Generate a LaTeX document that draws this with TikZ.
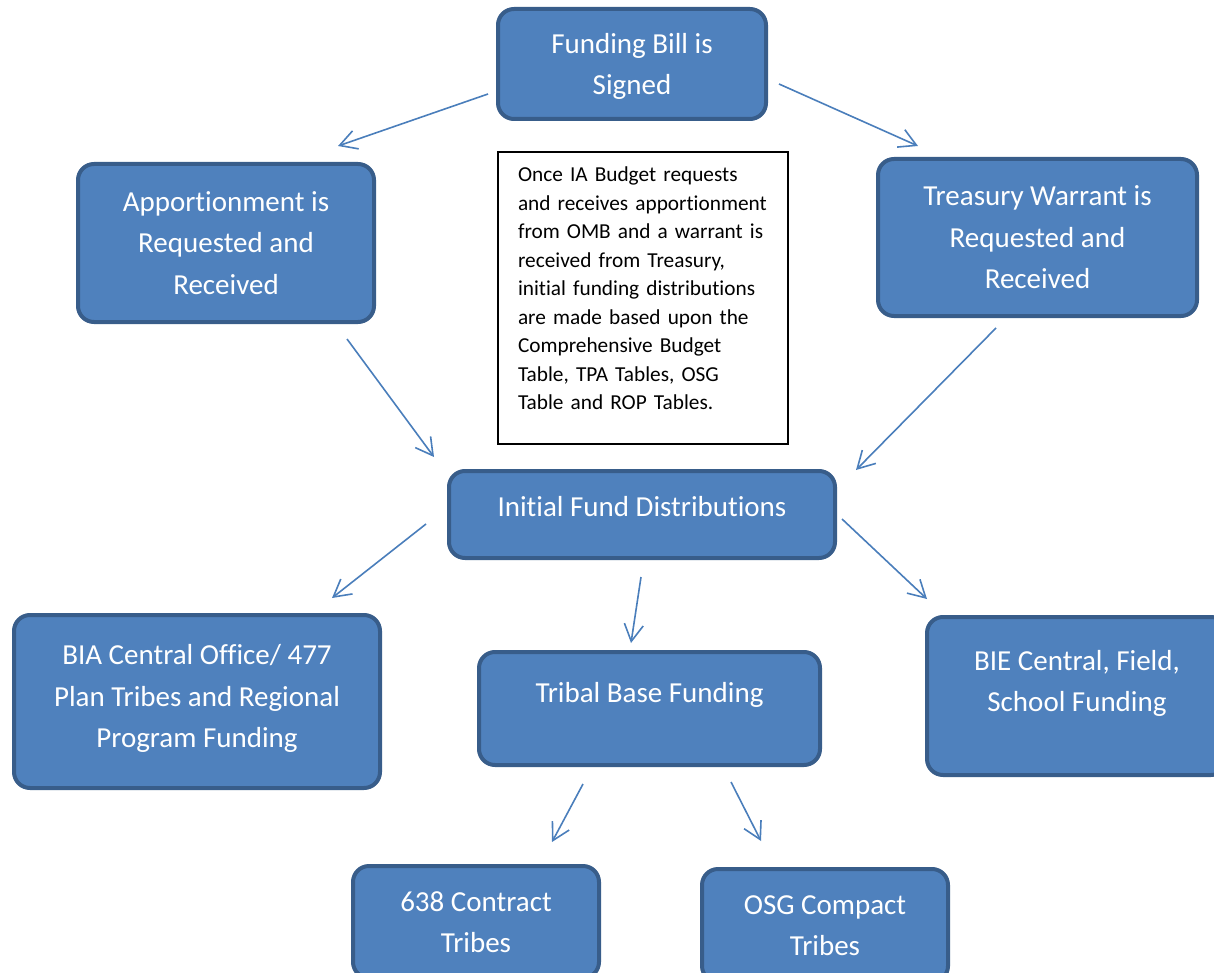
\documentclass[tikz,border=0pt]{standalone}
\usepackage{fontspec}
\setmainfont{Carlito}[Ligatures=NoCommon]
\usepackage{tikz}
\usetikzlibrary{arrows.meta}

\definecolor{stagefill}{RGB}{79,129,189}
\definecolor{stageline}{RGB}{56,93,138}
\definecolor{flowline}{RGB}{74,126,187}

\begin{document}
\begin{tikzpicture}[x=1pt,y=-1pt,>={Straight Barb[length=17pt,width=19pt]}]

  \tikzstyle{stage}=[rectangle,rounded corners=16pt,
    draw=stageline,fill=stagefill,line width=4pt,
    text=white,align=center,inner sep=0pt,
    font=\fontsize{29}{41.5}\selectfont]

  \tikzstyle{note}=[rectangle,draw=black,fill=white,line width=2pt,
    text width=250pt,align=left,inner xsep=20pt,inner ysep=15pt,
    font=\fontsize{21.3}{28.5}\selectfont]

  \tikzstyle{flow}=[->,draw=flowline,line width=1.6pt]

  \useasboundingbox (0,0) rectangle (1214,973);

  %% \draw [help lines,step=50] (0,0) grid (1214,973);

  \node  (fund)   at (632,64)      [stage,minimum width=268pt,minimum height=110pt,text depth=0pt]
         {Funding Bill is\\Signed};

  \node  (appr)   at (226,243)     [stage,minimum width=296pt,minimum height=158pt]
         {Apportionment is\\Requested and\\Received};

  \node  (treas)  at (1037.5,237.5) [stage,minimum width=319pt,minimum height=157pt]
         {Treasury Warrant is\\Requested and\\Received};

  \node  (note)   at (643,151)     [note,anchor=north,text depth=247pt]
         {Once IA Budget requests\\
          and receives apportionment\\
          from OMB and a warrant is\\
          received from Treasury,\\
          initial funding distributions\\
          are made based upon the\\
          Comprehensive Budget\\
          Table, TPA Tables, OSG\\
          Table and ROP Tables.};

  \node  (init)   at (642,514.5)   [stage,minimum width=386pt,minimum height=87pt,text depth=16pt]
         {Initial Fund Distributions};

  \node  (bia)    at (197,701.5)   [stage,minimum width=366pt,minimum height=173pt,text depth=11pt]
         {BIA Central Office/ 477\\Plan Tribes and Regional\\Program Funding};

  \node  (tribal) at (649.5,708.5) [stage,minimum width=341pt,minimum height=113pt,text depth=32pt]
         {Tribal Base Funding};

  \node  (bie)    at (1077,696)    [stage,minimum width=300pt,minimum height=158pt,text depth=30.5pt]
         {BIE Central, Field,\\School Funding};

  \node  (c638)   at (476,922)     [stage,minimum width=246pt,minimum height=112pt]
         {638 Contract\\Tribes};

  \node  (osg)    at (825,925.5)   [stage,minimum width=246pt,minimum height=113pt]
         {OSG Compact\\Tribes};

  \coordinate (fund-w)   at (488,94);   \coordinate (appr-ne)  at (338,146);
  \coordinate (fund-e)   at (779,84);   \coordinate (treas-nw) at (918,146);
  \coordinate (appr-s)   at (347,339);  \coordinate (init-nw)  at (434,457);
  \coordinate (treas-s)  at (996,328);  \coordinate (init-ne)  at (856,470);
  \coordinate (init-sw)  at (426,524);  \coordinate (bia-ne)   at (332,598);
  \coordinate (init-s)   at (641,577);  \coordinate (tribal-n) at (631,643);
  \coordinate (init-se)  at (842,519);  \coordinate (bie-nw)   at (927,599);
  \coordinate (tribal-sw) at (583,784); \coordinate (c638-n)   at (552,842);
  \coordinate (tribal-se) at (731,782); \coordinate (osg-n)    at (761,841);

  \path (fund-w)    edge [flow] (appr-ne)
        (fund-e)    edge [flow] (treas-nw)
        (appr-s)    edge [flow] (init-nw)
        (treas-s)   edge [flow] (init-ne)
        (init-sw)   edge [flow] (bia-ne)
        (init-s)    edge [flow] (tribal-n)
        (init-se)   edge [flow] (bie-nw)
        (tribal-sw) edge [flow] (c638-n)
        (tribal-se) edge [flow] (osg-n);

\end{tikzpicture}
\end{document}
